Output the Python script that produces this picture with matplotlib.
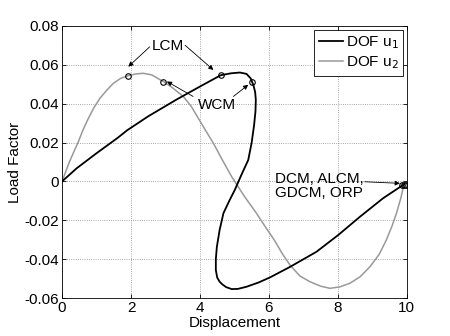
import matplotlib
matplotlib.use("Agg")
import matplotlib.pyplot as plt

plt.rcParams['font.family'] = ['Liberation Sans', 'DejaVu Sans']

# DOF u1 (black)
u1_x = [0.0, 0.42, 1.0, 1.62, 1.88, 2.5, 3.32, 4.0, 4.6, 4.9, 5.16, 5.35, 5.47, 5.55, 5.60, 5.62, 5.61, 5.57, 5.50, 5.40, 5.20, 5.01, 4.85, 4.68, 4.57, 4.49, 4.46, 4.46, 4.50, 4.57, 4.65, 4.76, 4.92, 5.10, 5.35, 5.70, 6.03, 6.61, 7.38, 8.01, 8.64, 9.31, 9.92]
u1_y = [0.0, 0.0067, 0.0145, 0.0225, 0.0262, 0.0335, 0.0421, 0.0488, 0.0546, 0.0556, 0.0560, 0.0553, 0.0530, 0.0495, 0.0460, 0.0420, 0.0360, 0.0290, 0.0200, 0.0110, 0.0033, -0.0044, -0.0100, -0.0164, -0.0250, -0.0336, -0.0400, -0.0456, -0.0495, -0.0516, -0.0530, -0.0544, -0.0554, -0.0553, -0.0542, -0.0520, -0.0494, -0.0440, -0.0362, -0.0276, -0.0182, -0.0087, -0.0015]

# DOF u2 (gray)
u2_x = [0.0, 0.1, 0.2, 0.33, 0.46, 0.6, 0.75, 0.92, 1.1, 1.3, 1.49, 1.7, 1.92, 2.15, 2.36, 2.6, 2.94, 3.2, 3.52, 3.75, 3.95, 4.17, 4.39, 4.65, 4.92, 5.3, 5.64, 5.9, 6.15, 6.4, 6.61, 6.9, 7.19, 7.5, 7.77, 8.05, 8.35, 8.65, 8.93, 9.2, 9.41, 9.57, 9.70, 9.82, 9.92]
u2_y = [0.0, 0.0048, 0.0095, 0.0148, 0.0199, 0.0262, 0.0320, 0.0378, 0.0428, 0.0470, 0.0505, 0.0530, 0.0544, 0.0553, 0.0556, 0.0548, 0.0513, 0.0482, 0.0436, 0.0385, 0.0325, 0.0260, 0.0196, 0.0110, 0.0024, -0.0080, -0.0164, -0.0235, -0.0300, -0.0375, -0.0430, -0.0487, -0.0516, -0.0539, -0.0550, -0.0543, -0.0524, -0.0490, -0.0439, -0.0375, -0.0300, -0.0230, -0.0164, -0.0090, -0.0015]

# Method markers
mk_x = [1.92, 2.94, 4.6, 5.5, 9.87, 9.92, 9.97]
mk_y = [0.0544, 0.0513, 0.0546, 0.0510, -0.0018, -0.0018, -0.0018]

x_ticks = [0, 2, 4, 6, 8, 10]
y_ticks = [-0.06, -0.04, -0.02, 0, 0.02, 0.04, 0.06, 0.08]
y_tick_labels = ['-0.06', '-0.04', '-0.02', '0', '0.02', '0.04', '0.06', '0.08']

# annotation texts and arrows (start -> tip) in data units
lcm_text = ('LCM', 3.07, 0.0697)
lcm_arrows = [((2.54, 0.0692), (1.92, 0.0590)), ((3.57, 0.0700), (4.39, 0.0573))]
wcm_text = ('WCM', 4.49, 0.0393)
wcm_arrows = [((3.80, 0.0437), (3.04, 0.0514)), ((4.97, 0.0437), (5.40, 0.0497))]
dcm_text = ('DCM, ALCM,\nGDCM, ORP', 6.17, -0.0026)
dcm_arrows = [((8.78, -0.0002), (9.80, -0.0010))]

fig = plt.figure(figsize=(4.5, 3.36), dpi=100)
ax = fig.add_axes([0.138, 0.113, 0.766, 0.810])

ax.plot(u1_x, u1_y, color='black', lw=1.3, label='DOF u$_1$', zorder=3)
ax.plot(u2_x, u2_y, color='#999999', lw=1.1, label='DOF u$_2$', zorder=2)
ax.plot(mk_x, mk_y, linestyle='none', marker='o', ms=4, mfc='none', mec='black', mew=0.8, zorder=4)

fs = 11
ax.text(lcm_text[1], lcm_text[2], lcm_text[0], fontsize=fs, ha='center', va='center')
ax.text(wcm_text[1], wcm_text[2], wcm_text[0], fontsize=fs, ha='center', va='center')
ax.text(dcm_text[1], dcm_text[2], dcm_text[0], fontsize=fs, ha='left', va='center', linespacing=1.0)
for start, tip in lcm_arrows + wcm_arrows + dcm_arrows:
    ax.annotate('', xy=tip, xytext=start,
                arrowprops=dict(arrowstyle='-|>', color='black', lw=0.6, mutation_scale=7,
                                shrinkA=0, shrinkB=0))

ax.set_xlim(0, 10)
ax.set_ylim(-0.06, 0.08)
ax.set_xticks(x_ticks)
ax.set_xticklabels([str(v) for v in x_ticks])
ax.set_yticks(y_ticks)
ax.set_yticklabels(y_tick_labels)
ax.tick_params(direction='in', top=True, right=True, labelsize=fs, length=3, width=0.6, pad=2)
ax.grid(True, linestyle=':', color='#888888', lw=0.6)
for s in ax.spines.values():
    s.set_linewidth(0.6)
ax.set_xlabel('Displacement', fontsize=fs, labelpad=1)
ax.set_ylabel('Load Factor', fontsize=fs, labelpad=2)

leg = ax.legend(loc='upper right', fontsize=fs, fancybox=False, framealpha=1, edgecolor='black',
                borderaxespad=0.25, handlelength=1.6, handletextpad=0.15, borderpad=0.3, labelspacing=0.25)
leg.get_frame().set_linewidth(0.6)

fig.savefig('out.png', dpi=100)
